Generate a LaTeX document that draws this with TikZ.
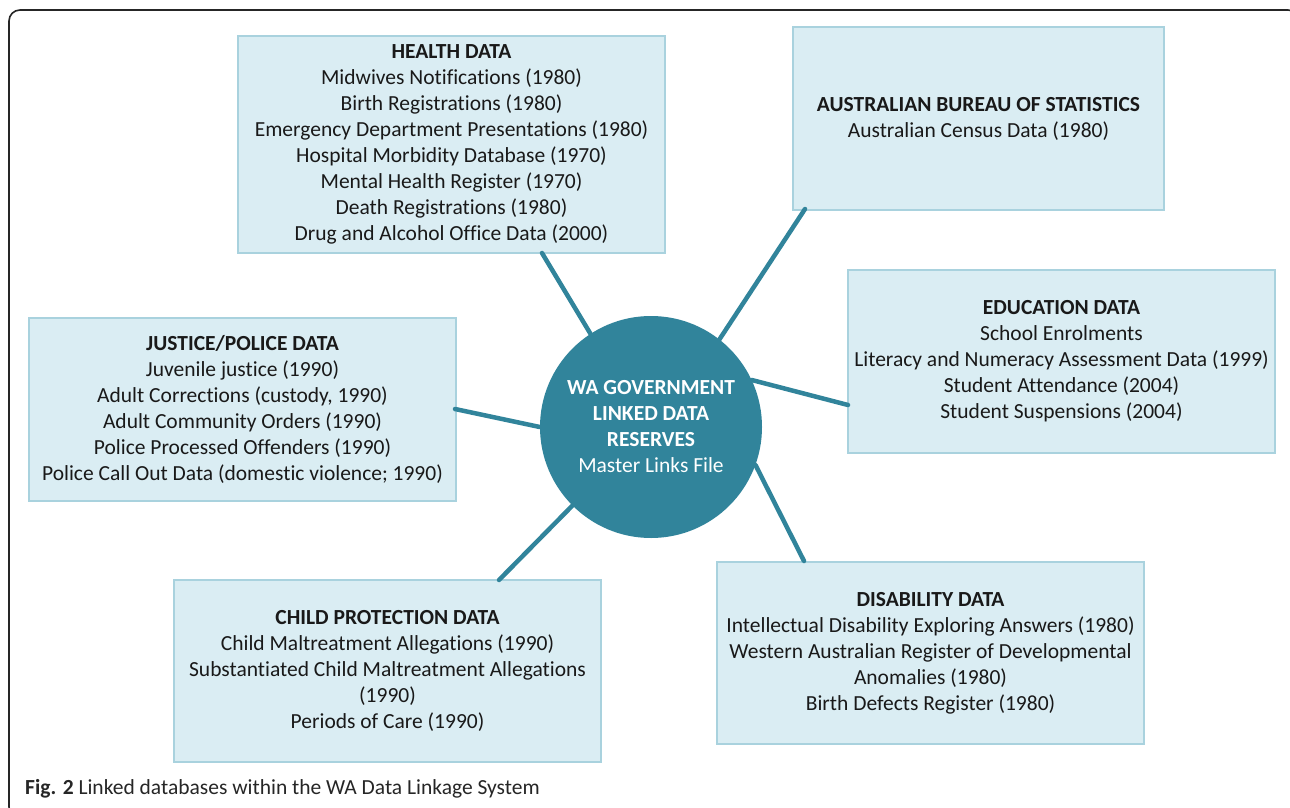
\documentclass[tikz,border=0pt]{standalone}
\usepackage{fontspec}
\setmainfont[Ligatures=NoCommon]{Carlito}
\definecolor{boxfill}{HTML}{DAEDF3}
\definecolor{boxline}{HTML}{A9D2DE}
\definecolor{teal}{HTML}{31849B}
\begin{document}
\begin{tikzpicture}[x=1pt,y=-1pt,
  dbox/.style={draw=boxline,fill=boxfill,line width=1.2pt,inner sep=0pt,align=center,
     font=\fontsize{21.5}{26}\selectfont,text=black!90},
  hub/.style={circle,fill=teal,inner sep=0pt,minimum size=222pt,align=center,text=white,
     font=\fontsize{21.5}{26}\selectfont},
  link/.style={draw=teal,line width=4.5pt,line cap=round}]
\useasboundingbox (0,0) rectangle (1290,808);
\clip (0,0) rectangle (1290,808);
\fill[white] (0,0) rectangle (1290,808);
\draw[line width=1.6pt,black!85,rounded corners=11pt] (9,10) rectangle (1299,818);

\node[dbox,minimum width=427pt,minimum height=217pt] (hd) at (451.5,144.5)
 {\textbf{HEALTH DATA}\\Midwives Notifications (1980)\\Birth Registrations (1980)\\Emergency Department Presentations (1980)\\Hospital Morbidity Database (1970)\\Mental Health Register (1970)\\Death Registrations (1980)\\Drug and Alcohol Office Data (2000)};
\node[dbox,minimum width=371pt,minimum height=183pt] (abs) at (978.5,118.5)
 {\textbf{AUSTRALIAN BUREAU OF STATISTICS}\\Australian Census Data (1980)};
\node[dbox,minimum width=427pt,minimum height=183pt] (ed) at (1061.5,361.5)
 {\textbf{EDUCATION DATA}\\School Enrolments\\Literacy and Numeracy Assessment Data (1999)\\Student Attendance (2004)\\Student Suspensions (2004)};
\node[dbox,minimum width=427pt,minimum height=183pt] (jp) at (242.5,409.5)
 {\textbf{JUSTICE/POLICE DATA}\\Juvenile justice (1990)\\Adult Corrections (custody, 1990)\\Adult Community Orders (1990)\\Police Processed Offenders (1990)\\Police Call Out Data (domestic violence; 1990)};
\node[dbox,minimum width=427pt,minimum height=182pt] (cp) at (387.5,671)
 {\textbf{CHILD PROTECTION DATA}\\Child Maltreatment Allegations (1990)\\Substantiated Child Maltreatment Allegations\\(1990)\\Periods of Care (1990)};
\node[dbox,minimum width=427pt,minimum height=182pt] (dd) at (930.5,653)
 {\textbf{DISABILITY DATA}\\Intellectual Disability Exploring Answers (1980)\\Western Australian Register of Developmental\\Anomalies (1980)\\Birth Defects Register (1980)};

\node[hub] (c) at (651,427) {\textbf{WA GOVERNMENT}\\\textbf{LINKED DATA}\\\textbf{RESERVES}\\Master Links File};

\coordinate (hdp) at (542,253);
\coordinate (absp) at (805,209);
\coordinate (edp) at (848,405);
\coordinate (jpp) at (455,409);
\coordinate (cpp) at (499,580);
\coordinate (ddp) at (804,561);

\draw[link] (hdp) -- (c.123);
\draw[link] (absp) -- (c.52);
\draw[link] (edp) -- (c.25);
\draw[link] (jpp) -- (c.180);
\draw[link] (cpp) -- (c.225);
\draw[link] (ddp) -- (c.340);

\node[anchor=west,inner sep=0pt,font=\fontsize{21.5}{25}\selectfont,text=black!85] (cap) at (25,789)
 {\textbf{Fig. 2} Linked databases within the WA Data Linkage System};
\end{tikzpicture}
\end{document}
